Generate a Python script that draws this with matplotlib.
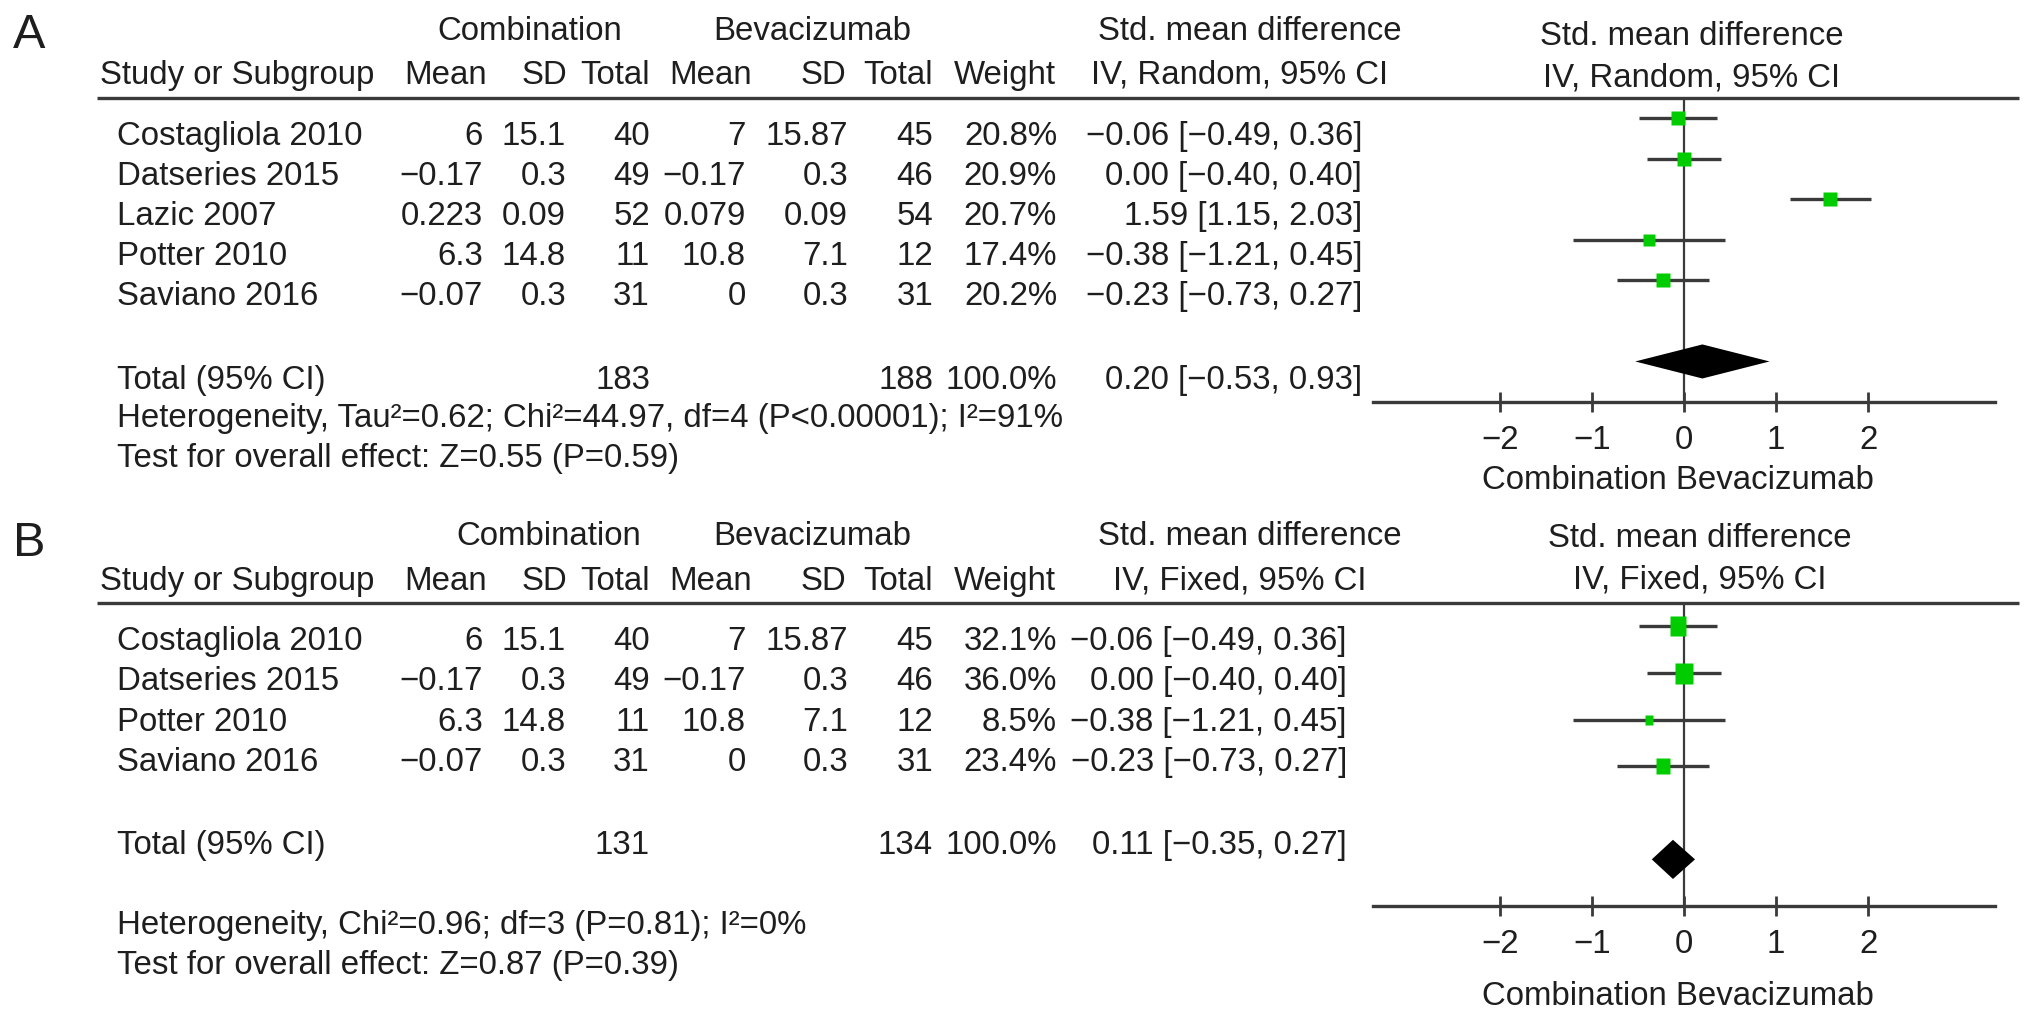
import numpy as np
import matplotlib
matplotlib.use("Agg")
import matplotlib.pyplot as plt
from matplotlib.path import Path

plt.rcParams['font.family'] = ['Liberation Sans', 'DejaVu Sans']

# ---------------- data ----------------
studies_A = ['Costagliola 2010', 'Datseries 2015', 'Lazic 2007', 'Potter 2010', 'Saviano 2016']
comb_mean_A = [6, -0.17, 0.223, 6.3, -0.07]
comb_sd_A = [15.1, 0.3, 0.09, 14.8, 0.3]
comb_n_A = [40, 49, 52, 11, 31]
bev_mean_A = [7, -0.17, 0.079, 10.8, 0]
bev_sd_A = [15.87, 0.3, 0.09, 7.1, 0.3]
bev_n_A = [45, 46, 54, 12, 31]
weight_A = [20.8, 20.9, 20.7, 17.4, 20.2]
smd_A = [-0.06, 0.00, 1.59, -0.38, -0.23]
lo_A = [-0.49, -0.40, 1.15, -1.21, -0.73]
hi_A = [0.36, 0.40, 2.03, 0.45, 0.27]
total_comb_A = 183
total_bev_A = 188
pooled_A = [0.20, -0.53, 0.93]          # estimate, lower, upper (text and diamond)
diamond_A = [0.20, -0.53, 0.93]
het_A = 'Heterogeneity, Tau²=0.62; Chi²=44.97, df=4 (P<0.00001); I²=91%'
test_A = 'Test for overall effect: Z=0.55 (P=0.59)'

studies_B = ['Costagliola 2010', 'Datseries 2015', 'Potter 2010', 'Saviano 2016']
comb_mean_B = [6, -0.17, 6.3, -0.07]
comb_sd_B = [15.1, 0.3, 14.8, 0.3]
comb_n_B = [40, 49, 11, 31]
bev_mean_B = [7, -0.17, 10.8, 0]
bev_sd_B = [15.87, 0.3, 7.1, 0.3]
bev_n_B = [45, 46, 12, 31]
weight_B = [32.1, 36.0, 8.5, 23.4]
smd_B = [-0.06, 0.00, -0.38, -0.23]
lo_B = [-0.49, -0.40, -1.21, -0.73]
hi_B = [0.36, 0.40, 0.45, 0.27]
total_comb_B = 131
total_bev_B = 134
pooled_B = [0.11, -0.35, 0.27]          # as printed
diamond_B = [-0.12, -0.35, 0.12]        # as drawn
het_B = 'Heterogeneity, Chi²=0.96; df=3 (P=0.81); I²=0%'
test_B = 'Test for overall effect: Z=0.87 (P=0.39)'

ticks = [-2, -1, 0, 1, 2]
xlims = (-3.38, 3.38)

# ---------------- styling ----------------
W, H = 2032, 1016
FS = 23.8
TXT = '#1e1e1e'
LINE = '#3a3a3a'
GREEN = '#00cc00'


def num(v):
    return f'{v:g}'.replace('-', '\u2212')


def ci(e, l, h):
    return f'{e:.2f} [{l:.2f}, {h:.2f}]'.replace('-', '\u2212')


fig = plt.figure(figsize=(W / 100, H / 100), dpi=100)
ov = fig.add_axes([0, 0, 1, 1])
ov.set_xlim(0, W)
ov.set_ylim(H, 0)
ov.axis('off')


def t(x, y, s, ha='left', fs=FS):
    # y given as cap-centre in pixels
    ov.text(x, y + 0.36 * fs * 100 / 72, s, ha=ha, va='baseline', fontsize=fs, color=TXT)


cols = dict(mean=483, sd=566, n=650, mean2=746, sd2=848, n2=933, w=1057)


def panel(letter, y0, studies, cm, cs, cn, bm, bs, bn, wt, est, lo, hi,
          tc, tb, pooled, diamond, het, test, model, ci_right,
          grp_y, hdr_y, row0, row_gap, tot_y, het_y, test_y, comb_cx,
          rhdr_cx, rhdr_y, ax_top, ax_bot, k, aspect, xlab_y):
    # letter
    t(13, y0, letter, fs=35)
    # group headers
    t(comb_cx, grp_y, 'Combination', ha='center')
    t(812, grp_y, 'Bevacizumab', ha='center')
    t(1250, grp_y, 'Std. mean difference', ha='center')
    t(1240, hdr_y, f'IV, {model}, 95% CI', ha='center')
    t(rhdr_cx, rhdr_y[0], 'Std. mean difference', ha='center')
    t(rhdr_cx, rhdr_y[1], f'IV, {model}, 95% CI', ha='center')
    # column headers
    t(100, hdr_y, 'Study or Subgroup')
    t(487, hdr_y, 'Mean', ha='right')
    t(567, hdr_y, 'SD', ha='right')
    t(650, hdr_y, 'Total', ha='right')
    t(752, hdr_y, 'Mean', ha='right')
    t(846, hdr_y, 'SD', ha='right')
    t(933, hdr_y, 'Total', ha='right')
    t(1056, hdr_y, 'Weight', ha='right')
    # rows
    for i, s in enumerate(studies):
        y = row0 + i * row_gap
        t(117, y, s)
        t(cols['mean'], y, num(cm[i]), ha='right')
        t(cols['sd'], y, num(cs[i]), ha='right')
        t(cols['n'], y, str(cn[i]), ha='right')
        t(cols['mean2'], y, num(bm[i]), ha='right')
        t(cols['sd2'], y, num(bs[i]), ha='right')
        t(cols['n2'], y, str(bn[i]), ha='right')
        t(cols['w'], y, f'{wt[i]:.1f}%', ha='right')
        t(ci_right, y, ci(est[i], lo[i], hi[i]), ha='right')
    # totals
    t(117, tot_y, 'Total (95% CI)')
    t(cols['n'], tot_y, str(tc), ha='right')
    t(cols['n2'], tot_y, str(tb), ha='right')
    t(cols['w'], tot_y, '100.0%', ha='right')
    t(ci_right, tot_y, ci(*pooled), ha='right')
    t(117, het_y, het)
    t(117, test_y, test)
    # top rule
    ov.plot([97, 2019], [ax_top, ax_top], color=LINE, lw=2.4, solid_capstyle='butt')

    # forest axes
    n = len(studies)
    left, right = 1373, 1995
    ax = fig.add_axes([left / W, 1 - ax_bot / H, (right - left) / W, (ax_bot - ax_top) / H])
    ax.set_facecolor('none')
    ax.set_xlim(*xlims)
    ax.set_ylim(n + 2, -0.5)
    for sp in ['top', 'left', 'right']:
        ax.spines[sp].set_visible(False)
    ax.spines['bottom'].set_color(LINE)
    ax.spines['bottom'].set_linewidth(2.4)
    ax.set_yticks([])
    ax.set_xticks(ticks)
    ax.set_xticklabels([num(v) for v in ticks])
    ax.tick_params(axis='x', direction='inout', length=15, width=2.0, color=LINE,
                   labelsize=FS, labelcolor=TXT, pad=9)
    ax.axvline(0, color=LINE, lw=1.6, zorder=1)
    rows = np.arange(n)
    ax.hlines(rows, lo, hi, color=LINE, lw=2.4, zorder=2)
    a = aspect
    rect = Path([(-1 / a, -1), (1 / a, -1), (1 / a, 1), (-1 / a, 1), (-1 / a, -1)])
    for i in range(n):
        hpx = k * np.sqrt(wt[i])
        ax.plot(est[i], rows[i], marker=rect, ms=hpx * 0.72, color=GREEN,
                mec='none', zorder=3)
    de, dl, dh = diamond
    yd = n + 1
    ax.fill([dl, de, dh, de], [yd, yd - 0.42, yd, yd + 0.42], color='black', zorder=4, lw=0)
    # x label
    t(1678, xlab_y, 'Combination Bevacizumab', ha='center')


panel('A', 30, studies_A, comb_mean_A, comb_sd_A, comb_n_A, bev_mean_A, bev_sd_A, bev_n_A,
      weight_A, smd_A, lo_A, hi_A, total_comb_A, total_bev_A, pooled_A, diamond_A,
      het_A, test_A, 'Random', 1362,
      grp_y=28, hdr_y=72, row0=133, row_gap=40, tot_y=377, het_y=415, test_y=455,
      comb_cx=530, rhdr_cx=1692, rhdr_y=(33, 75), ax_top=98, ax_bot=402,
      k=2.9, aspect=1.0, xlab_y=477)

panel('B', 538, studies_B, comb_mean_B, comb_sd_B, comb_n_B, bev_mean_B, bev_sd_B, bev_n_B,
      weight_B, smd_B, lo_B, hi_B, total_comb_B, total_bev_B, pooled_B, diamond_B,
      het_B, test_B, 'Fixed', 1347,
      grp_y=533, hdr_y=578, row0=638, row_gap=40.5, tot_y=842, het_y=922, test_y=962,
      comb_cx=549, rhdr_cx=1700, rhdr_y=(535, 577), ax_top=603, ax_bot=906,
      k=3.5, aspect=1.2, xlab_y=993)

fig.savefig('out.png', dpi=100, facecolor='white')
